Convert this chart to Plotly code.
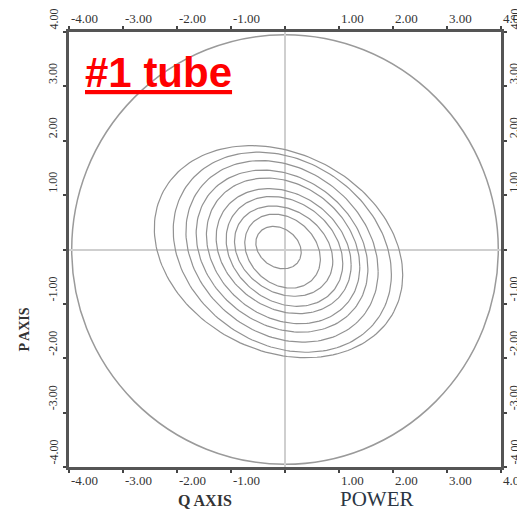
import numpy as np
import plotly.graph_objects as go

# ---- data ----
tick_vals = [-4, -3, -2, -1, 0, 1, 2, 3, 4]
x_tick_text = ["-4.00", "-3.00", "-2.00", "-1.00", "", "1.00", "2.00", "3.00", "4.00"]
y_tick_text = ["-4.00", "-3.00", "-2.00", "-1.00", "", "1.00", "2.00", "3.00", "4.00"]

# contour rings (outer -> inner): centre, half extents, correlation (tilt)
ring_cx = [-0.12, -0.05, -0.055, -0.055, -0.035, -0.025, -0.01, -0.025, -0.045, -0.12]
ring_cy = [-0.04, -0.05, -0.035, -0.03, -0.025, -0.03, -0.035, -0.03, -0.03, 0.035]
ring_sx = [2.30, 2.02, 1.78, 1.59, 1.42, 1.25, 1.08, 0.91, 0.70, 0.42]
ring_sy = [1.95, 1.84, 1.67, 1.49, 1.34, 1.15, 1.01, 0.83, 0.68, 0.39]
ring_rho = [-0.22] * 10

circle_radius = 3.95

fig = go.Figure()

t = np.linspace(0, 2 * np.pi, 181)
for cx, cy, sx, sy, rho in zip(ring_cx, ring_cy, ring_sx, ring_sy, ring_rho):
    xs = cx + sx * np.cos(t)
    ys = cy + sy * (rho * np.cos(t) + np.sqrt(1 - rho ** 2) * np.sin(t))
    fig.add_trace(go.Scatter(x=xs, y=ys, mode="lines",
                             line=dict(color="#929292", width=1.2),
                             hoverinfo="skip", showlegend=False))

fig.add_shape(type="circle", xref="x", yref="y",
              x0=-circle_radius, y0=-circle_radius, x1=circle_radius, y1=circle_radius,
              line=dict(color="#9a9a9a", width=1.5), layer="below")

axis_common = dict(range=[-4, 4], tickvals=tick_vals, showticklabels=False,
                   ticks="outside", ticklen=3, tickwidth=2, tickcolor="#444",
                   showline=True, linecolor="#555", linewidth=2.5, mirror="ticks",
                   showgrid=False, zeroline=True, zerolinecolor="#cfcfcf",
                   zerolinewidth=2, fixedrange=True)

fig.update_layout(
    width=517, height=512,
    margin=dict(l=69, r=10, t=32, b=45),
    paper_bgcolor="white", plot_bgcolor="white",
    xaxis=axis_common, yaxis=axis_common,
    showlegend=False,
)

ann = []
tick_font = dict(family="Liberation Serif", size=13, color="#333")
for v, s in zip(tick_vals, x_tick_text):
    if not s:
        continue
    ann.append(dict(x=v, xref="x", y=0, yref="paper", text=s, showarrow=False,
                    xanchor="left", yanchor="top", yshift=-4, font=tick_font))
    ann.append(dict(x=v, xref="x", y=1, yref="paper", text=s, showarrow=False,
                    xanchor="left", yanchor="bottom", yshift=4, font=tick_font))
yfont = dict(family="Liberation Serif", size=12, color="#333")
for v, s in zip(tick_vals, y_tick_text):
    if not s:
        continue
    ann.append(dict(x=0, xref="paper", y=v, yref="y", text=s, showarrow=False,
                    textangle=-90, xanchor="center", yanchor="bottom",
                    xshift=-16, font=yfont))
    ann.append(dict(x=1, xref="paper", y=v, yref="y", text=s, showarrow=False,
                    textangle=-90, xanchor="center", yanchor="bottom",
                    xshift=13, font=yfont))

ann.append(dict(x=0.315, y=-0.078, xref="paper", yref="paper", text="<b>Q AXIS</b>",
                showarrow=False, xanchor="center", yanchor="middle",
                font=dict(family="Liberation Serif", size=16, color="#333")))
ann.append(dict(x=0.712, y=-0.074, xref="paper", yref="paper", text="POWER",
                showarrow=False, xanchor="center", yanchor="middle",
                font=dict(family="Liberation Serif", size=21, color="#2b3644")))
ann.append(dict(x=-0.103, y=0.315, xref="paper", yref="paper", text="<b>P AXIS</b>",
                showarrow=False, textangle=-90, xanchor="center", yanchor="middle",
                font=dict(family="Liberation Serif", size=14, color="#333")))
ann.append(dict(x=0.032, y=0.908, xref="paper", yref="paper", text="<b>#1 tube</b>",
                showarrow=False, xanchor="left", yanchor="middle",
                font=dict(family="Liberation Sans", size=42, color="#ff0000",
                          lineposition="under")))

fig.update_layout(annotations=ann)
fig.write_html("out.html", config={"displayModeBar": False},
               post_script="document.body.style.margin='0';")
